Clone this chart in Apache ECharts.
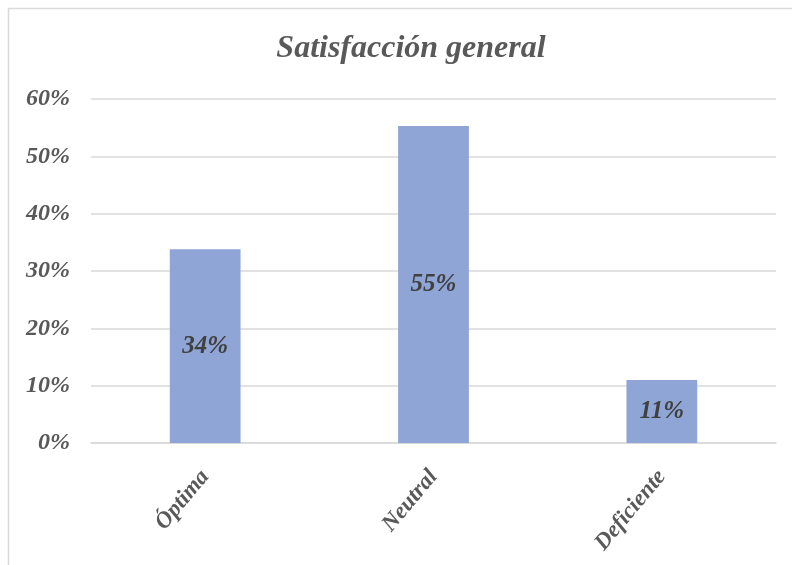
<!DOCTYPE html>
<html>
<head>
<meta charset="utf-8">
<script src="https://cdn.jsdelivr.net/npm/echarts@6/dist/echarts.min.js"></script>
<style>html,body{margin:0;padding:0;background:#fff;}#c{width:792px;height:565px;}</style>
</head>
<body>
<div id="c"></div>
<script>
const categories = ['Óptima', 'Neutral', 'Deficiente'];
const values = [33.8, 55.3, 11.0];
const yTicks = [0, 10, 20, 30, 40, 50, 60];
const titleText = 'Satisfacción general';

const serif = '"Liberation Serif", "DejaVu Serif", serif';
const chart = echarts.init(document.getElementById('c'));
chart.setOption({
  animation: false,
  backgroundColor: '#fff',
  title: {
    text: titleText,
    left: 406, top: 28, textAlign: 'center',
    textStyle: { fontFamily: serif, fontSize: 32, fontWeight: 'bold', fontStyle: 'italic', color: '#595959' }
  },
  graphic: [{
    type: 'rect', shape: { x: 8.5, y: 8.5, width: 900, height: 700 },
    style: { fill: 'none', stroke: '#d9d9d9', lineWidth: 1.5 }, silent: true, z: -1
  }],
  grid: { left: 91, right: 16, top: 99, bottom: 122, containLabel: false },
  xAxis: {
    type: 'category', data: categories,
    axisLine: { show: true, lineStyle: { color: '#d9d9d9', width: 1.5 } },
    axisTick: { show: false },
    axisLabel: {
      rotate: 50, margin: 30, interval: 0,
      fontFamily: serif, fontSize: 23, fontWeight: 'bold', fontStyle: 'italic', color: '#595959'
    }
  },
  yAxis: {
    type: 'value', min: yTicks[0], max: yTicks[yTicks.length - 1], interval: 10,
    axisLine: { show: false }, axisTick: { show: false },
    splitLine: { lineStyle: { color: '#d9d9d9', width: 1.5 } },
    axisLabel: {
      margin: 21, formatter: v => v + '%',
      fontFamily: serif, fontSize: 24, fontWeight: 'bold', fontStyle: 'italic', color: '#595959'
    }
  },
  series: [{
    type: 'bar', data: values, barWidth: '31%',
    itemStyle: { color: '#8FA5D6' },
    label: {
      show: true, position: 'inside', formatter: p => Math.round(p.value) + '%',
      fontFamily: serif, fontSize: 25, fontWeight: 'bold', fontStyle: 'italic', color: '#404040'
    }
  }]
});
</script>
</body>
</html>
